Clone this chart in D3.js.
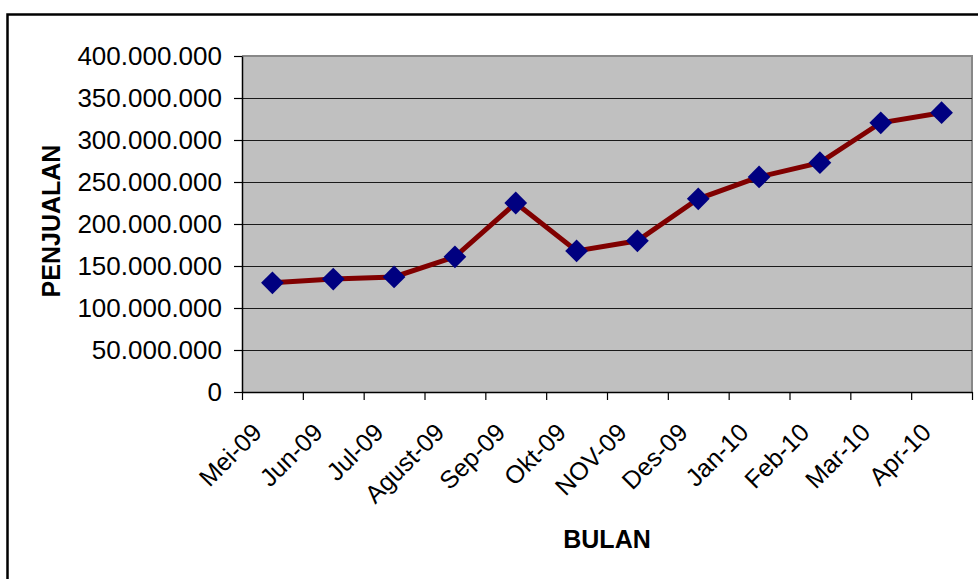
<!DOCTYPE html>
<html>
<head>
<meta charset="utf-8">
<script src="https://cdn.jsdelivr.net/npm/d3@7"></script>
<style>
    body { margin: 0; background: #fff; }
    svg { display: block; font-family: "Liberation Sans", Arial, sans-serif; }
</style>
</head>
<body>
<figure id="chart" style="margin:0"></figure>
<script>
// data
var months = ["Mei-09", "Jun-09", "Jul-09", "Agust-09", "Sep-09", "Okt-09",
    "NOV-09", "Des-09", "Jan-10", "Feb-10", "Mar-10", "Apr-10"];
var sales = [130000000, 134500000, 137000000, 161000000, 225000000, 168000000,
    180000000, 230000000, 256000000, 273000000, 320500000, 332500000];
var yTicks = [0, 50000000, 100000000, 150000000, 200000000, 250000000,
    300000000, 350000000, 400000000];

let dimensions = {
    width: 978,
    height: 579,
    margin: { top: 56, right: 6, bottom: 187, left: 242 },
};
dimensions.boundedWidth = dimensions.width - dimensions.margin.left - dimensions.margin.right;
dimensions.boundedHeight = dimensions.height - dimensions.margin.top - dimensions.margin.bottom;

var root = d3.select("figure#chart")
    .append("svg")
    .attr("width", dimensions.width)
    .attr("height", dimensions.height);

// outer frame
root.append("rect")
    .attr("x", 7.5).attr("y", 14.5)
    .attr("width", 1000).attr("height", 600)
    .attr("fill", "none")
    .attr("stroke", "#000")
    .attr("stroke-width", 2.5);

var svg = root.append("g")
    .attr("transform", `translate(${dimensions.margin.left}, ${dimensions.margin.top})`);

var xScale = d3.scaleBand()
    .domain(months)
    .range([0, dimensions.boundedWidth]);

// category boundaries for tick marks
var xEdge = d3.scaleLinear()
    .domain([0, months.length])
    .range([0, dimensions.boundedWidth]);

var yScale = d3.scaleLinear()
    .domain([0, 400000000])
    .range([dimensions.boundedHeight, 0]);

var locale = d3.formatLocale({ decimal: ",", thousands: ".", grouping: [3], currency: ["", ""] });
var fmt = locale.format(",");

// plot area
svg.append("rect")
    .attr("width", dimensions.boundedWidth)
    .attr("height", dimensions.boundedHeight)
    .attr("fill", "#c0c0c0");

// top + right border of plot
svg.append("path")
    .attr("d", `M0,0H${dimensions.boundedWidth}V${dimensions.boundedHeight}`)
    .attr("fill", "none")
    .attr("stroke", "#888")
    .attr("stroke-width", 2);

// gridlines
svg.append("g")
    .attr("class", "grid")
    .call(d3.axisLeft(yScale).tickValues(yTicks.slice(1, -1)).tickSize(-dimensions.boundedWidth).tickFormat(""))
    .call(g => g.select(".domain").remove())
    .selectAll("line")
    .attr("stroke", "#1a1a1a")
    .attr("stroke-width", 1);

// y axis
var yAxis = svg.append("g")
    .attr("class", "y axis")
    .call(d3.axisLeft(yScale).tickValues(yTicks).tickSize(8).tickSizeOuter(0).tickPadding(12).tickFormat(fmt));
yAxis.select(".domain").attr("stroke", "#000").attr("stroke-width", 1.5);
yAxis.selectAll("line").attr("stroke", "#000").attr("stroke-width", 1.2);
yAxis.selectAll("text")
    .attr("font-size", 26)
    .attr("fill", "#000");

// x axis ticks at category edges
var xAxis = svg.append("g")
    .attr("class", "x axis")
    .attr("transform", `translate(0, ${dimensions.boundedHeight})`)
    .call(d3.axisBottom(xEdge).ticks(months.length).tickSize(8).tickSizeOuter(0).tickFormat(""));
xAxis.select(".domain").attr("stroke", "#000").attr("stroke-width", 1.5);
xAxis.selectAll("line").attr("stroke", "#000").attr("stroke-width", 1.2);

// x axis labels, rotated
var xLabels = svg.append("g")
    .attr("transform", `translate(0, ${dimensions.boundedHeight})`)
    .call(d3.axisBottom(xScale).tickSize(0).tickPadding(0));
xLabels.select(".domain").remove();
xLabels.selectAll("text")
    .attr("font-size", 25)
    .attr("fill", "#000")
    .attr("text-anchor", "end")
    .attr("dy", 0)
    .attr("y", 0)
    .attr("transform", "translate(-9, 42) rotate(-45)");

// line
var line = d3.line()
    .x((d, i) => xScale(months[i]) + xScale.bandwidth() / 2)
    .y(d => yScale(d));

svg.append("path")
    .datum(sales)
    .attr("d", line)
    .attr("fill", "none")
    .attr("stroke", "#800000")
    .attr("stroke-width", 5);

// diamond markers
svg.selectAll(".marker")
    .data(sales)
    .enter()
    .append("path")
    .attr("class", "marker")
    .attr("d", d3.symbol().type(d3.symbolDiamond2).size(330))
    .attr("transform", (d, i) => `translate(${xScale(months[i]) + xScale.bandwidth() / 2}, ${yScale(d)})`)
    .attr("fill", "#000080");

// axis titles
root.append("text")
    .attr("transform", "translate(60, 221) rotate(-90)")
    .attr("text-anchor", "middle")
    .attr("font-size", 25)
    .attr("font-weight", "bold")
    .text("PENJUALAN");

root.append("text")
    .attr("x", 607)
    .attr("y", 548)
    .attr("text-anchor", "middle")
    .attr("font-size", 25)
    .attr("font-weight", "bold")
    .text("BULAN");
</script>
</body>
</html>
